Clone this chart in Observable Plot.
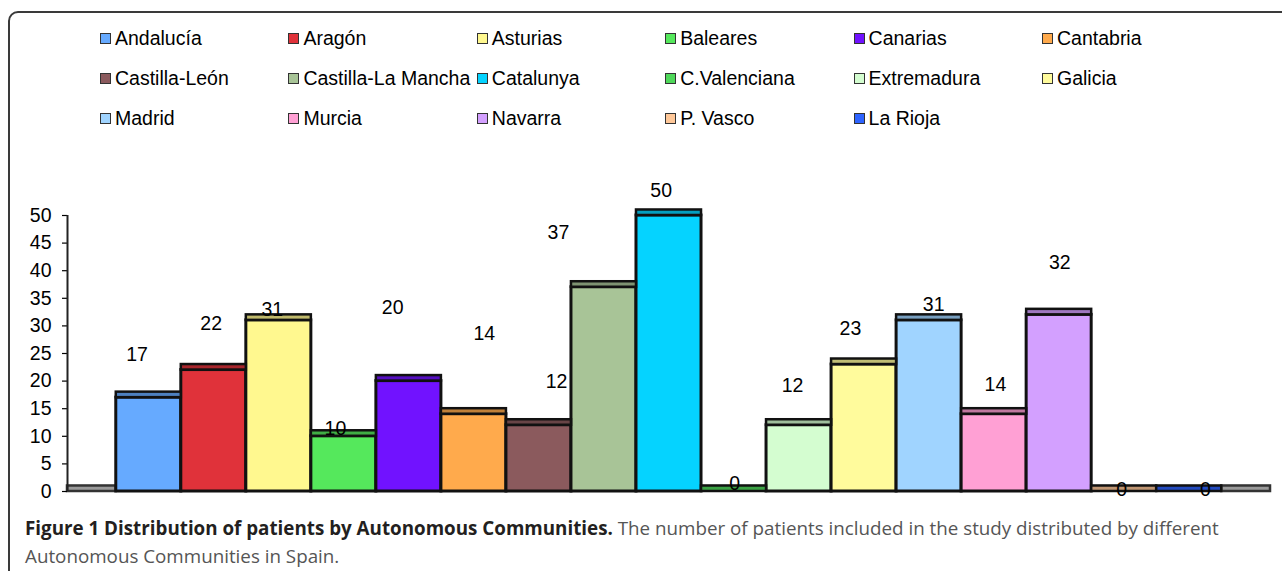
<!DOCTYPE html>
<html>
<head>
<meta charset="utf-8">
<script src="https://cdn.jsdelivr.net/npm/d3@7"></script>
<script src="https://cdn.jsdelivr.net/npm/@observablehq/plot@0.6"></script>
<style>
  html, body { margin: 0; padding: 0; background: #fff; width: 1282px; height: 571px; overflow: hidden; }
  #frame { position: absolute; left: 8px; top: 11px; width: 1400px; height: 700px;
           border: 2px solid #3a3a3a; border-radius: 10px; box-sizing: border-box; }
  #legend { position: absolute; left: 0; top: 0; width: 1282px; height: 150px;
            font-family: "Liberation Sans", Arial, sans-serif; font-size: 19.5px; color: #000; }
  .item { position: absolute; display: flex; align-items: center; height: 22px; white-space: nowrap; }
  .sw { width: 9px; height: 9px; border: 1px solid #333; margin-right: 4px; flex: none; }
  #chart { position: absolute; left: 0; top: 150px; }
  #caption { position: absolute; left: 25px; top: 514px; width: 1250px;
             font-family: "Open Sans", sans-serif; font-size: 18.8px; line-height: 28px; color: #555; }
  #caption b { color: #231f20; font-weight: 700; }
</style>
</head>
<body>
<div id="frame"></div>
<div id="legend"></div>
<div id="chart"></div>
<div id="caption"><b>Figure 1 Distribution of patients by Autonomous Communities.</b> The number of patients included in the study distributed by different<br>Autonomous Communities in Spain.</div>
<script>
// ---- data ----
const regions = ["Andalucía","Aragón","Asturias","Baleares","Canarias","Cantabria",
  "Castilla-León","Castilla-La Mancha","Catalunya","C.Valenciana","Extremadura","Galicia",
  "Madrid","Murcia","Navarra","P. Vasco","La Rioja"];
const patients = [17,22,31,10,20,14,12,37,50,0,12,23,31,14,32,0,0];
const colors = ["#66aaff","#e0323a","#fff88f","#55e85c","#7112ff","#ffaa4c",
  "#8b5a5d","#a8c497","#05d3ff","#4fd85a","#d4fdd0","#fffb9c",
  "#a0d4ff","#ffa0d4","#d3a0ff","#ffc899","#2e64ff"];
const yTicks = [0,5,10,15,20,25,30,35,40,45,50];

// ---- layout of the (irregularly placed) value labels ----
const labelY = [24.7,30.3,32.9,11.3,33.2,28.5,19.8,46.9,54.5,1.45,19.1,29.4,33.8,19.3,41.4,0.36,0.36];
const labelShift = [-0.18,-0.04,-0.1,-0.13,-0.25,0.16,0.27,-0.7,-0.12,0.01,-0.1,-0.21,0.07,0.02,0.01,-0.04,0.25];
const capDepth = 1;
const sideFloor = 0.75;

const data = regions.map((name, i) => ({
  name, i, value: patients[i], color: colors[i],
  cap: d3.color(colors[i]).darker(0.8).formatHex(),
  ly: labelY[i], lx: i + 0.5 + labelShift[i]
}));
const n = regions.length;
const floors = [{a: -sideFloor, b: 0}, {a: n, b: n + sideFloor}];

// ---- legend ----
const legend = document.getElementById("legend");
regions.forEach((name, i) => {
  const col = i % 6, row = Math.floor(i / 6);
  const el = document.createElement("div");
  el.className = "item";
  el.style.left = (100 + col * 188.4) + "px";
  el.style.top = (27 + row * 40) + "px";
  el.innerHTML = `<span class="sw" style="background:${colors[i]}"></span><span>${name}</span>`;
  legend.appendChild(el);
});

// ---- chart ----
const chart = Plot.plot({
  width: 1282, height: 350,
  marginLeft: 67, marginRight: 12, marginTop: 65, marginBottom: 9,
  x: {type: "linear", domain: [-sideFloor, n + sideFloor], axis: null},
  y: {domain: [0, 50]},
  color: {type: "identity"},
  style: {fontFamily: "'Liberation Sans', Arial, sans-serif", fontSize: "19.5px", color: "#000", overflow: "visible", background: "transparent"},
  marks: [
    Plot.rect(floors, {x1: "a", x2: "b", y1: 0, y2: capDepth, fill: "#9a9a9a", stroke: "#333", strokeWidth: 2.5}),
    Plot.rect(data, {x1: "i", x2: d => d.i + 1, y1: 0, y2: "value", fill: "color", stroke: "#111", strokeWidth: 3}),
    Plot.rect(data, {x1: "i", x2: d => d.i + 1, y1: "value", y2: d => d.value + capDepth, fill: "cap", stroke: "#111", strokeWidth: 2.5}),
    Plot.axisY({ticks: yTicks, tickSize: 5, tickPadding: 11, fontSize: 19.5, label: null, strokeWidth: 1.2}),
    Plot.ruleX([-sideFloor], {y1: 0, y2: 50, stroke: "#222", strokeWidth: 2}),
    Plot.text(data, {x: "lx", y: "ly", text: d => String(d.value), fontSize: 19.5, fill: "#000"})
  ]
});
document.getElementById("chart").appendChild(chart);
</script>
</body>
</html>
